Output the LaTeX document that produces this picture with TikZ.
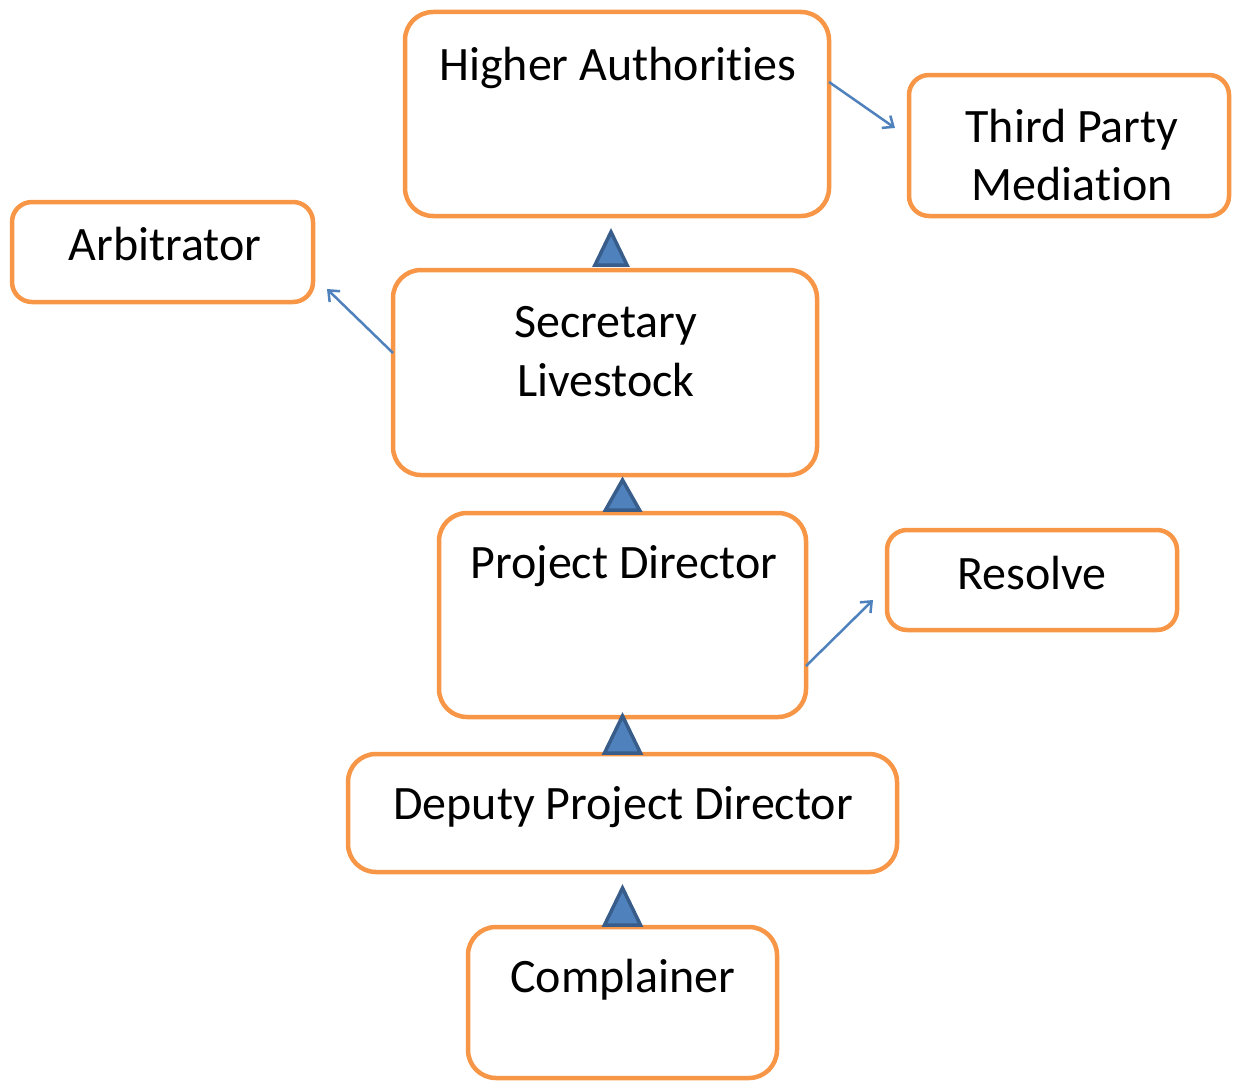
\documentclass[tikz,border=0pt]{standalone}
\usepackage{fontspec}
\setmainfont[RawFeature={-liga;-clig;-dlig;-calt;-hlig}]{Carlito}
\usetikzlibrary{arrows.meta,calc}
\definecolor{boxorange}{HTML}{F79646}
\definecolor{linkblue}{HTML}{4F81BD}
\definecolor{tridark}{HTML}{385D8A}
\tikzset{
  box/.style={draw=boxorange, line width=4.5pt, rounded corners=28pt, inner sep=0pt, outer sep=0pt},
  smallbox/.style={box, rounded corners=20pt},
  txt/.style={inner sep=0pt, outer sep=0pt, anchor=base, font=\fontsize{48}{58}\selectfont},
  link/.style={draw=linkblue, line width=2.5pt, -{Straight Barb[length=9pt,width=15pt,line width=2.5pt]}},
  tri/.style={fill=linkblue, draw=tridark, line width=3.5pt}
}
\newcommand\uptri[3]{\filldraw[tri] (#1) ++(-#2,0) -- ++(#2,-#3) -- ++(#2,#3) -- cycle;}
\begin{document}
\begin{tikzpicture}[x=1pt,y=-1pt]
\useasboundingbox (0,0) rectangle (1233,1081);
% boxes
\node[box, minimum width=424pt, minimum height=204pt] (ha) at (617,114) {};
\node[smallbox, minimum width=320pt, minimum height=141pt] (tpm) at (1069,145.5) {};
\node[smallbox, minimum width=301pt, minimum height=100pt] (arb) at (162.5,252) {};
\node[box, minimum width=424pt, minimum height=205pt] (sl) at (605,372.5) {};
\node[box, minimum width=367pt, minimum height=204pt] (pd) at (622.5,615) {};
\node[smallbox, minimum width=290pt, minimum height=100pt] (res) at (1032,580) {};
\node[box, minimum width=549pt, minimum height=118pt] (dpd) at (622.5,813) {};
\node[box, minimum width=309pt, minimum height=151pt] (comp) at (622.5,1002.5) {};
% texts
\node[txt] (hat) at (618,81) {Higher Authori\kern0pt ties};
\node[txt] (tpm1) at (1072,142) {Third Party};
\node[txt] (tpm2) at (1072,200) {Media\kern0pt tion};
\node[txt] (arbt) at (165,260) {Arbitrator};
\node[txt] (sl1) at (606,337) {Secretary};
\node[txt] (sl2) at (606,396) {Livestock};
\node[txt] (pdt) at (624,578) {Project Director};
\node[txt] (rest) at (1032,589) {Resolve};
\node[txt] (dpdt) at (623,819) {Deputy Project Director};
\node[txt] (compt) at (623,992) {Complainer};
% side connectors
\coordinate (e1) at ($(tpm.west)+(-14,-17.5)$);
\coordinate (e2) at ($(arb.south east)+(14,-13)$);
\coordinate (e3) at ($(res.west)+(-14,20)$);
\draw[link] (ha.east |- 0,82) -- (e1);
\draw[link] (sl.west |- 0,353) -- (e2);
\draw[link] (pd.east |- 0,666) -- (e3);
% upward triangles
\coordinate (t1) at ($(sl.north)+(6,-5)$);
\coordinate (t2) at ($(pd.north)+(0,-3)$);
\coordinate (t3) at ($(dpd.north)+(0,-1)$);
\coordinate (t4) at ($(comp.north)+(0,-2)$);
\uptri{t1}{16}{33}
\uptri{t2}{17}{30}
\uptri{t3}{18}{37}
\uptri{t4}{18}{37}
\end{tikzpicture}
\end{document}
